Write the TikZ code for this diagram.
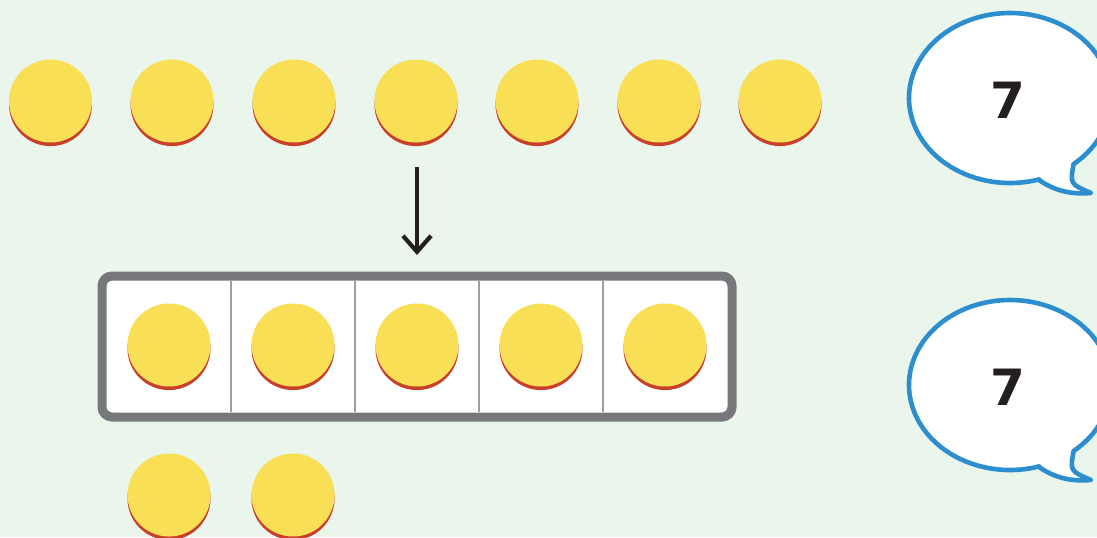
\documentclass[tikz,border=0pt]{standalone}
\usepackage{fontspec}
\newfontfamily\numfont{DejaVu Sans}
\usetikzlibrary{arrows.meta,shadows}
\definecolor{bgc}{HTML}{EAF6EC}
\definecolor{coinyellow}{HTML}{F9DF55}
\definecolor{coinred}{HTML}{C8402A}
\definecolor{framegray}{HTML}{77787B}
\definecolor{divgray}{HTML}{9D9FA2}
\definecolor{bubbleblue}{HTML}{2C8ECF}
\definecolor{inkc}{HTML}{231F20}
\begin{document}
\begin{tikzpicture}[x=0.5pt,y=-0.5pt,
  counter/.style={circle, fill=coinyellow, minimum size=41.5pt, inner sep=0pt,
    general shadow={fill=coinred, shadow yshift=-1.8pt}},
  framebox/.style={draw=framegray, line width=4.5pt, fill=white, rounded corners=5pt},
  divider/.style={draw=divgray, line width=0.8pt},
  bubble/.style={draw=bubbleblue, line width=2.3pt, fill=white, line join=round},
  numtext/.style={font=\numfont\bfseries\fontsize{25}{30}\selectfont, text=inkc},
  arrowline/.style={draw=inkc, line width=2.1pt, -{Straight Barb[length=8pt, width=14pt, line width=2.1pt]}}]
\useasboundingbox (0,0) rectangle (1097,537);
\clip (0,0) rectangle (1097,537);
\fill[bgc] (0,0) rectangle (1097,537);

% top row of counters
\foreach \i/\x in {1/50.5,2/172,3/294,4/416,5/537,6/659,7/780}
  \node[counter] (c\i) at (\x,101) {};

% arrow
\coordinate (as) at (417,167);
\coordinate (ae) at (417,255);
\draw[arrowline] (as) -- (ae);

% five frame
\draw[framebox] (102,276) rectangle (732,417);
\foreach \x in {231,355,479,603}
  \draw[divider] (\x,280) -- (\x,412);
\foreach \i/\x in {1/169,2/293,3/417,4/541,5/665}
  \node[counter] (f\i) at (\x,345) {};

% leftover counters
\node[counter] (b1) at (169,495) {};
\node[counter] (b2) at (293,495) {};

% speech bubbles
\foreach \n/\dy in {t/0,u/287}{
  \begin{scope}[yshift=-\dy*0.5pt]
  \draw[bubble] (1010,98) ++(73:101 and 85)
    arc[start angle=73, end angle=411, x radius=101, y radius=85]
    .. controls (1070,184) .. (1091,193)
    .. controls (1068,195) and (1052,189) .. (1039,180) -- cycle;
  \node[numtext] (n\n) at (1008,100) {7};
  \end{scope}
}
\end{tikzpicture}
\end{document}
